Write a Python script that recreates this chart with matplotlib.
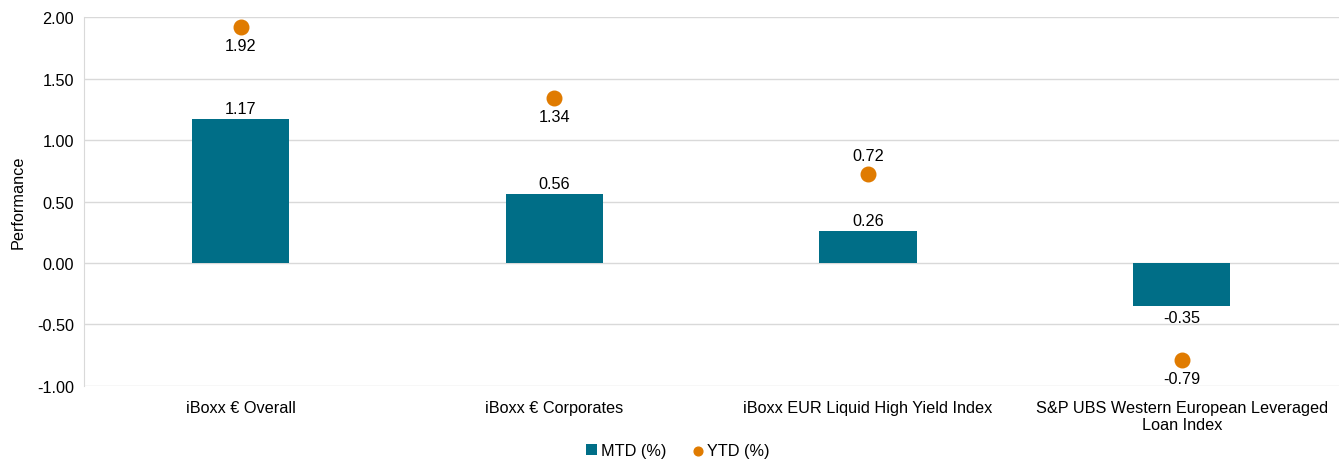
import matplotlib
matplotlib.use("Agg")
import matplotlib.pyplot as plt
import numpy as np

plt.rcParams['font.family'] = ['Liberation Sans', 'DejaVu Sans']
FS = 11.7

categories = ["iBoxx € Overall", "iBoxx € Corporates", "iBoxx EUR Liquid High Yield Index",
              "S&P UBS Western European Leveraged\nLoan Index"]
mtd = [1.17, 0.56, 0.26, -0.35]
ytd = [1.92, 1.34, 0.72, -0.79]
# where to put ytd label: +1 above the dot, -1 below
ytd_label_side = [-1, -1, 1, -1]

bar_color = "#006E87"
dot_color = "#E07B00"

fig = plt.figure(figsize=(13.39, 4.64), dpi=100)
ax = fig.add_axes([0.0627, 0.166, 0.937, 0.795])

x = np.arange(len(categories))
bars = ax.bar(x, mtd, width=0.31, color=bar_color, label="MTD (%)", zorder=3)
dots = ax.scatter(x, ytd, s=110, color=dot_color, label="YTD (%)", zorder=4)

for i in range(len(x)):
    if mtd[i] >= 0:
        ax.annotate(f"{mtd[i]:.2f}", (x[i], mtd[i]), xytext=(0, 2), textcoords="offset points",
                    ha="center", va="bottom", fontsize=FS)
    else:
        ax.annotate(f"{mtd[i]:.2f}", (x[i], mtd[i]), xytext=(0, -3), textcoords="offset points",
                    ha="center", va="top", fontsize=FS)
    if ytd_label_side[i] > 0:
        ax.annotate(f"{ytd[i]:.2f}", (x[i], ytd[i]), xytext=(0, 8), textcoords="offset points",
                    ha="center", va="bottom", fontsize=FS)
    else:
        ax.annotate(f"{ytd[i]:.2f}", (x[i], ytd[i]), xytext=(0, -8), textcoords="offset points",
                    ha="center", va="top", fontsize=FS)

ax.set_xlim(-0.5, len(x) - 0.5)
ax.set_ylim(-1.0, 2.0)
yt = np.arange(-1.0, 2.01, 0.5)
ax.set_yticks(yt)
ax.set_yticklabels([f"{v:.2f}" for v in yt], fontsize=FS)
ax.set_xticks(x)
ax.set_xticklabels(categories, fontsize=FS, linespacing=1.15)
ax.tick_params(axis="x", length=0, pad=10)
ax.tick_params(axis="y", length=0, pad=7)
ax.set_ylabel("Performance", fontsize=FS, labelpad=8)

ax.grid(axis="y", color="#D9D9D9", linewidth=1, zorder=0)
for s in ["top", "right", "bottom"]:
    ax.spines[s].set_visible(False)
ax.spines["left"].set_color("#D9D9D9")

fig.legend(handles=[bars, dots], labels=["MTD (%)", "YTD (%)"], loc="center",
           bbox_to_anchor=(0.506, 0.027), ncol=2, frameon=False, fontsize=FS,
           handlelength=0.7, handletextpad=0.2, columnspacing=1.6, markerscale=0.6)

fig.savefig("out.png", dpi=100)
